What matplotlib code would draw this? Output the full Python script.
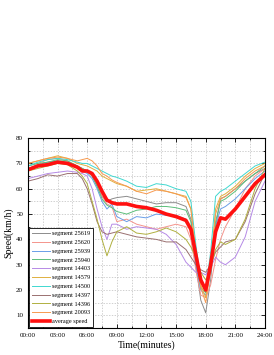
import matplotlib
matplotlib.use('Agg')
import matplotlib.pyplot as plt
from matplotlib.ticker import MultipleLocator, FuncFormatter

plt.rcParams['font.family'] = ['Liberation Serif', 'DejaVu Serif']

hours = [0, 1, 2, 3, 4, 5, 5.5, 6, 6.5, 7, 7.5, 8, 8.5, 9, 10, 11, 12, 13, 14, 15,
         16, 16.5, 17, 17.5, 18, 18.5, 19, 19.5, 20, 21, 22, 23, 24]
minutes = [h * 60 for h in hours]

seg_25619 = [68, 69.5, 70.5, 71, 70.5, 69, 68, 67, 65, 61, 57, 55, 56, 56.5, 57, 56, 55, 54, 54.5, 54.5,
             53, 48, 30, 16, 11, 24, 45, 56, 57, 60, 63, 66, 68]
seg_25620 = [69, 70, 71.5, 72, 71, 69, 68, 67, 65, 62, 57, 54, 53, 47, 48, 46, 45, 44, 45, 46,
             45, 40, 28, 18, 17, 22, 32, 40, 45, 52, 60, 65, 68]
seg_25939 = [68, 69, 70, 71, 70, 68.5, 67, 66, 64, 60, 55, 52, 54, 49, 47, 49, 48.5, 50, 49.5, 49.5,
             48, 44, 30, 20, 18, 28, 45, 52, 53, 56, 60, 64, 67]
seg_25940 = [69, 70, 70.5, 71.5, 71, 69, 68, 67, 65, 61, 56, 53.5, 52.5, 51, 50, 51.5, 52, 53, 53, 52.5,
             51.5, 47, 32, 21, 19, 28, 47, 55, 56, 59, 63, 66, 69]
seg_14403 = [64, 65, 66, 66.5, 67, 66.5, 66, 65, 60, 52, 45, 40, 46, 46, 44, 45, 44.5, 44, 42, 38,
             31, 29, 27, 27, 26, 29, 33, 31, 30, 33, 41, 55, 63]
seg_14579 = [70, 71, 72, 73, 72, 70, 69.5, 69, 68, 67, 65, 64, 63, 62, 61, 59, 59.5, 60, 59, 58,
             57, 52, 35, 22, 17, 30, 52, 57, 58, 61, 65, 68, 70]
seg_14500 = [69, 70.5, 71.5, 72, 71.5, 70.5, 70, 70, 69, 68, 67, 66, 65, 64.5, 63, 61, 60.5, 62, 61.5, 60,
             59, 55, 38, 24, 20, 35, 57, 59, 60, 63, 66, 69, 70.5]
seg_14397 = [63, 64, 65.5, 65, 66, 66, 64, 60, 54, 47, 43, 42, 42.5, 43, 42, 41, 40.5, 40, 39, 39,
             36, 33, 30, 28, 27, 30, 35, 37, 39, 40, 47, 58, 66]
seg_14396 = [67, 68, 69, 70, 69.5, 67, 65, 62, 55, 48, 40, 33.5, 39, 43, 45, 42.5, 42, 43, 44.5, 43,
             40, 37, 33, 27, 24, 29, 36, 39, 38, 40, 48, 60, 68]
seg_20093 = [70, 71, 72, 72.5, 72, 71, 71.5, 72, 71, 69, 66, 65, 63.5, 62.5, 61, 59, 58, 59.5, 59, 58,
             56.5, 52, 35, 21, 15, 28, 50, 56, 57, 60, 64, 67, 69]
avg_speed = [67.5, 69, 69.5, 70.5, 70, 68.5, 67, 67, 66, 63, 59, 55.5, 54.5, 54, 54, 53, 52.5, 51.5, 50, 49,
             47.5, 44, 34, 24, 20, 30, 43, 48.5, 48, 52, 57, 62, 65.5]

segments = [
    ('segment 25619', seg_25619, '#8c8c8c'),
    ('segment 25620', seg_25620, '#f4948c'),
    ('segment 25939', seg_25939, '#6a9ee8'),
    ('segment 25940', seg_25940, '#5cbf7a'),
    ('segment 14403', seg_14403, '#b68ae6'),
    ('segment 14579', seg_14579, '#e0b040'),
    ('segment 14500', seg_14500, '#40d8d0'),
    ('segment 14397', seg_14397, '#9a7070'),
    ('segment 14396', seg_14396, '#b0b040'),
    ('segment 20093', seg_20093, '#f79a50'),
]

fig = plt.figure(figsize=(2.74, 3.55), dpi=100)
ax = fig.add_axes([0.102, 0.076, 0.865, 0.535])

for name, vals, col in segments:
    ax.plot(minutes, vals, color=col, lw=0.7, label=name)
ax.plot(minutes, avg_speed, color='#ff1010', lw=2.6, label='average speed')

ax.set_xlim(0, 1440)
ax.set_ylim(5, 80)
ax.xaxis.set_major_locator(MultipleLocator(180))
ax.xaxis.set_minor_locator(MultipleLocator(90))
ax.xaxis.set_major_formatter(FuncFormatter(lambda v, p: '%02d:%02d' % (int(v) // 60, int(v) % 60)))
ax.yaxis.set_major_locator(MultipleLocator(10))
ax.yaxis.set_minor_locator(MultipleLocator(5))
ax.tick_params(which='both', direction='in', top=True, right=True, labelsize=5, width=0.6)
ax.tick_params(which='major', length=3)
ax.tick_params(which='minor', length=1.5)
ax.grid(True, which='both', ls=(0, (2, 2)), color='#bdbdbd', lw=0.5)
for s in ax.spines.values():
    s.set_linewidth(0.8)

ax.set_xlabel('Time(minutes)', fontsize=7, labelpad=2)
ax.set_ylabel('Speed(km/h)', fontsize=7, labelpad=2)

leg = ax.legend(loc='lower left', fontsize=4.5, handlelength=3.0, labelspacing=0.55,
                borderpad=0.4, handletextpad=0.3, fancybox=False, framealpha=1,
                edgecolor='black', borderaxespad=0.2)
leg.get_frame().set_linewidth(0.6)

fig.savefig('out.png', dpi=100)
